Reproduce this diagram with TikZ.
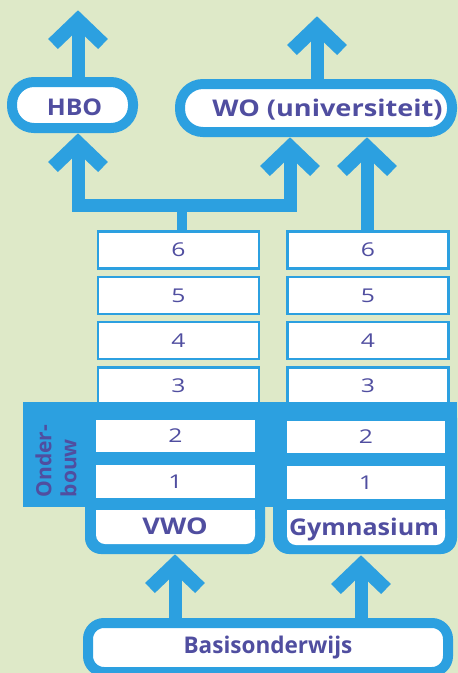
\documentclass[tikz,border=0pt]{standalone}
\usepackage{fontspec}
\setmainfont{Open Sans}
\usetikzlibrary{calc}
\definecolor{bg}{RGB}{222,233,200}
\definecolor{sky}{RGB}{44,160,224}
\definecolor{ink}{RGB}{80,78,160}
\newcommand{\barbat}[1]{\draw[barb] ($(#1)+(-25,34)$) -- ($(#1)+(0,10)$) -- ($(#1)+(25,34)$);}
\newcommand{\yr}[1]{\scalebox{1.3}[1]{#1}}
\tikzset{
  shaft/.style={draw=sky, line width=13pt, line join=miter, line cap=butt},
  link/.style={draw=sky, line width=10pt, line cap=butt},
  barb/.style={draw=sky, line width=14pt, line join=miter, miter limit=10, line cap=butt},
  pill/.style={draw=sky, line width=10pt, fill=white, outer sep=5pt, inner sep=0pt},
  lbl/.style={text=ink, inner sep=0pt, font=\bfseries\fontsize{23}{23}\selectfont, text height=16.4pt, text depth=0pt},
  yearbox/.style={draw=sky, line width=2.5pt, fill=white, minimum width=161pt, minimum height=37pt, inner sep=0pt, outer sep=1.25pt, text=ink, font=\fontsize{19}{19}\selectfont, text height=13.5pt, text depth=0pt},
  cell/.style={fill=white, inner sep=0pt, text=ink, font=\fontsize{19}{19}\selectfont, text height=13.5pt, text depth=0pt},
}
\begin{document}
\begin{tikzpicture}[x=1pt,y=-1pt]
\useasboundingbox (0,0) rectangle (458,673);
\clip (0,0) rectangle (458,673);
\fill[bg] (0,0) rectangle (458,673);

% upper level
\node[pill, minimum width=121pt, minimum height=46pt, rounded corners=22pt] (hbo) at (72.5,105) {};
\node[lbl] (hbotext) at (74.5,107) {\scalebox{1.08}[1]{HBO}};
\node[pill, minimum width=272pt, minimum height=48pt, rounded corners=23pt] (wo) at (316,108) {};
\node[lbl] (wotext) at (327.5,108) {\scalebox{1.18}[1]{WO (universiteit)}};

% year boxes
\foreach \n/\y in {6/250,5/295.5,4/340.5,3/386}{
  \node[yearbox] (l\n) at (178.5,\y) {\yr{\n}};
  \node[yearbox] (r\n) at (368,\y) {\yr{\n}};
}

% x positions and junction
\coordinate (xa) at (78,0);
\coordinate (xb) at (317,0);
\coordinate (xc) at (290,0);
\coordinate (xd) at (367,0);
\coordinate (xe) at (182,0);
\coordinate (xf) at (175,0);
\coordinate (xg) at (361,0);
\coordinate (topH) at (78,10);
\coordinate (topW) at (317,16);
\coordinate (jl) at (78,205);
\coordinate (jr) at (290,205);
\coordinate (jm) at (182,205);
\coordinate (t3) at (xa |- hbo.south);
\coordinate (t4) at (xc |- wo.south);
\coordinate (t5) at (xd |- wo.south);

% arrows above the pills
\draw[shaft] (xa |- hbo.north) -- ($(topH)+(0,10)$);
\barbat{topH}
\draw[shaft] (xb |- wo.north) -- ($(topW)+(0,10)$);
\barbat{topW}

% VWO to HBO and WO
\draw[link] (jm) -- (xe |- l6.north);
\draw[shaft] ($(t3)+(0,10)$) -- (jl) -- (jr) -- ($(t4)+(0,10)$);
\barbat{t3}
\barbat{t4}
% Gymnasium to WO
\draw[shaft] (xd |- r6.north) -- ($(t5)+(0,10)$);
\barbat{t5}

% onderbouw band and columns
\fill[sky] (23,402) rectangle (457,507);
\fill[sky, rounded corners=16pt] (85,402) rectangle (265,554);
\fill[sky, rounded corners=16pt] (273,402) rectangle (457,554);
\fill[white, rounded corners=9pt] (96,510) rectangle (255,544);
\fill[white] (96,510) rectangle (255,525);
\fill[white, rounded corners=9pt] (287,510) rectangle (445,545);
\fill[white] (287,510) rectangle (445,525);
\coordinate (t6) at (175,554);
\coordinate (t7) at (361,555);

\node[cell, minimum width=159pt, minimum height=32pt] (l2) at (175.5,436) {\yr{2}};
\node[cell, minimum width=159pt, minimum height=33pt] (l1) at (175.5,481.5) {\yr{1}};
\node[cell, minimum width=158pt, minimum height=32pt] (r2) at (366,437) {\yr{2}};
\node[cell, minimum width=158pt, minimum height=33pt] (r1) at (366,482.5) {\yr{1}};

\node[lbl] (vwo) at (175,526.5) {\scalebox{1.18}[1]{VWO}};
\node[lbl] (gym) at (364,527) {\scalebox{1.09}[1]{Gymnasium}};

\node[rotate=90, align=left, text=ink, inner sep=0pt, font=\bfseries\fontsize{21}{25}\selectfont] (ob) at (56,461) {Onder-\\bouw};

% basisonderwijs
\node[pill, minimum width=360pt, minimum height=49pt, rounded corners=16pt] (basis) at (268,647.5) {};
\node[lbl] (basistext) at (268,645.5) {\scalebox{0.98}[1]{Basisonderwijs}};

\draw[shaft] (xf |- basis.north) -- ($(t6)+(0,10)$);
\barbat{t6}
\draw[shaft] (xg |- basis.north) -- ($(t7)+(0,10)$);
\barbat{t7}
\end{tikzpicture}
\end{document}
